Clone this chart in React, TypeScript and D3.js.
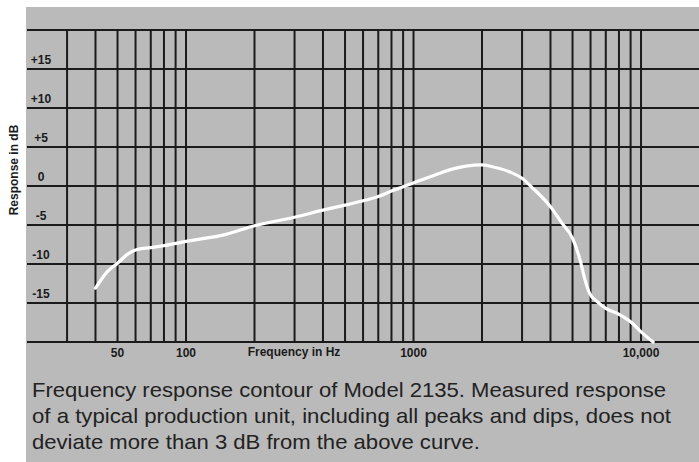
import React from "react";
import * as d3 from "d3";

// response curve
const freqs = [40, 45, 50, 55, 60, 70, 80, 100, 150, 200, 300, 400, 500, 600, 700, 800, 900, 1000, 1220, 1450, 1700, 2000, 2200, 2650, 3000, 3350, 4000, 4500, 5000, 5400, 5670, 5930, 6400, 7000, 8000, 9000, 10000, 11300];
const response = [-13.1, -11.0, -9.9, -8.8, -8.2, -7.9, -7.65, -7.1, -6.2, -5.1, -4.0, -3.1, -2.45, -1.9, -1.35, -0.65, -0.1, 0.4, 1.3, 2.1, 2.55, 2.7, 2.5, 1.8, 1.0, -0.3, -2.65, -4.8, -6.7, -9.5, -12.0, -13.7, -14.8, -15.7, -16.45, -17.4, -18.7, -20.0];

const gridDb = [20, 15, 10, 5, 0, -5, -10, -15, -20];
const tickDb = [15, 10, 5, 0, -5, -10, -15];
const tickDbLabels = ["+15", "+10", "+5", "0", "-5", "-10", "-15"];
const gridHz = [30, 40, 50, 60, 70, 80, 90, 100, 200, 300, 400, 500, 600, 700, 800, 900, 1000, 2000, 3000, 4000, 5000, 6000, 7000, 8000, 9000, 10000];
const tickHz = [50, 100, 1000, 10000];
const tickHzLabels = ["50", "100", "1000", "10,000"];

const caption = [
  "Frequency response contour of Model 2135. Measured response",
  "of a typical production unit, including all peaks and dips, does not",
  "deviate more than 3 dB from the above curve.",
];
const captionWidths = [634, 639, 448];

const W = 699;
const H = 462;

export default function App() {
  const x = d3.scaleLog().domain([20, 20000]).range([27, 709.5]);
  const y = d3.scaleLinear().domain([20, -20]).range([30, 342]);

  const pts: [number, number][] = freqs.map((f, i) => [x(f), y(response[i])]);
  const line = d3.line().curve(d3.curveMonotoneX);

  const ink = "#1b1b1b";

  return (
    <svg width={W} height={H} style={{ position: "absolute", left: 0, top: 0 }}
      fontFamily="'Liberation Sans', Arial, sans-serif">
      <rect x={0} y={0} width={W} height={H} fill="#ffffff" />
      <rect x={26} y={7} width={W - 26} height={H - 7} fill="#bababa" />

      {gridDb.map(d => (
        <line key={"h" + d} x1={27} x2={W} y1={y(d)} y2={y(d)} stroke={ink} strokeWidth={2} />
      ))}
      {gridHz.map(f => (
        <line key={"v" + f} x1={x(f)} x2={x(f)} y1={y(20)} y2={y(-20)} stroke={ink} strokeWidth={2} />
      ))}

      <path d={line(pts) || ""} fill="none" stroke="#ffffff" strokeWidth={3.2} strokeLinecap="round" />

      {tickDb.map((d, i) => (
        <text key={"t" + d} x={41} y={y(d) - 5} textAnchor="middle" fontSize={12} fontWeight="bold" fill={ink}>
          {tickDbLabels[i]}
        </text>
      ))}
      <text transform="translate(18,170) rotate(-90)" textAnchor="middle" fontSize={12} fontWeight="bold" fill={ink}>
        Response in dB
      </text>

      {tickHz.map((f, i) => (
        <text key={"x" + f} x={x(f)} y={357} textAnchor="middle" fontSize={12} fontWeight="bold" fill={ink}>
          {tickHzLabels[i]}
        </text>
      ))}
      <text x={294} y={356} textAnchor="middle" fontSize={12} fontWeight="bold" fill={ink}>
        Frequency in Hz
      </text>

      {caption.map((c, i) => (
        <text key={"c" + i} x={32} y={397 + i * 26} fontSize={21} fill="#222"
          textLength={captionWidths[i]} lengthAdjust="spacingAndGlyphs">
          {c}
        </text>
      ))}
    </svg>
  );
}
